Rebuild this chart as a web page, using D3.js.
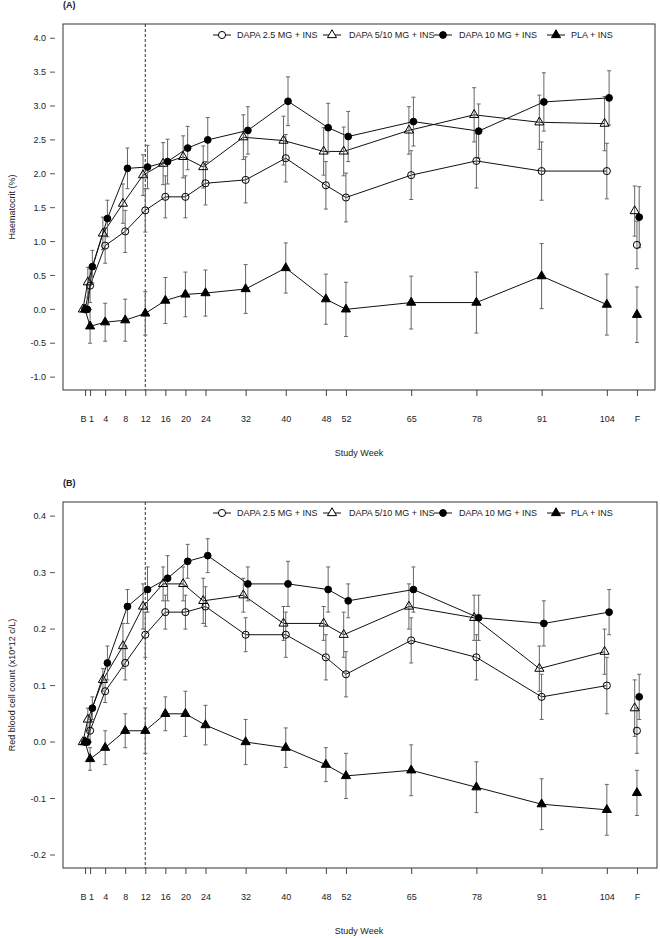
<!DOCTYPE html>
<html>
<head>
<meta charset="utf-8">
<script src="https://cdn.jsdelivr.net/npm/d3@7"></script>
<style>
  body { margin: 0; background: #fff; }
  svg text { font-family: "Liberation Sans", Arial, sans-serif; font-size: 9px; fill: #222; }
  .frame { fill: none; stroke: #333; stroke-width: 1; }
  .err { stroke: #666; stroke-width: 1; fill: none; }
  .line { fill: none; stroke: #111; stroke-width: 1; }
</style>
</head>
<body>
<script>
// study weeks (F = final follow-up, put after week 104)
const weeks = [0, 1, 4, 8, 12, 16, 20, 24, 32, 40, 48, 52, 65, 78, 91, 104, 110];
const weekLabels = ["B", "1", "4", "8", "12", "16", "20", "24", "32", "40", "48", "52", "65", "78", "91", "104", "F"];
const groups = ["DAPA 2.5 MG + INS", "DAPA 5/10 MG + INS", "DAPA 10 MG + INS", "PLA + INS"];

// (A) haematocrit change, %
const hctD25 = [0, 0.35, 0.94, 1.15, 1.46, 1.66, 1.66, 1.86, 1.91, 2.23, 1.83, 1.65, 1.98, 2.19, 2.04, 2.04, 0.95];
const hctD25se = [0, 0.25, 0.26, 0.31, 0.32, 0.31, 0.31, 0.32, 0.34, 0.35, 0.35, 0.36, 0.36, 0.40, 0.43, 0.41, 0.35];
const hctD510 = [0, 0.40, 1.12, 1.56, 1.98, 2.15, 2.25, 2.10, 2.54, 2.49, 2.33, 2.33, 2.64, 2.87, 2.76, 2.74, 1.45];
const hctD510se = [0, 0.22, 0.24, 0.29, 0.30, 0.31, 0.31, 0.31, 0.33, 0.36, 0.35, 0.36, 0.35, 0.40, 0.40, 0.40, 0.37];
const hctD10 = [0, 0.63, 1.34, 2.08, 2.10, 2.18, 2.38, 2.50, 2.64, 3.07, 2.68, 2.55, 2.77, 2.63, 3.06, 3.12, 1.36];
const hctD10se = [0, 0.24, 0.27, 0.30, 0.32, 0.33, 0.32, 0.33, 0.35, 0.36, 0.36, 0.37, 0.36, 0.40, 0.43, 0.40, 0.45];
const hctPla = [0, -0.25, -0.19, -0.16, -0.06, 0.13, 0.22, 0.24, 0.30, 0.61, 0.15, 0.00, 0.10, 0.10, 0.49, 0.07, -0.08];
const hctPlase = [0, 0.25, 0.28, 0.31, 0.32, 0.34, 0.33, 0.34, 0.36, 0.37, 0.37, 0.40, 0.39, 0.45, 0.48, 0.45, 0.41];
const hctTicks = [-1.0, -0.5, 0.0, 0.5, 1.0, 1.5, 2.0, 2.5, 3.0, 3.5, 4.0];

// (B) red blood cell count change
const rbcD25 = [0, 0.02, 0.09, 0.14, 0.19, 0.23, 0.23, 0.24, 0.19, 0.19, 0.15, 0.12, 0.18, 0.15, 0.08, 0.10, 0.02];
const rbcD25se = [0, 0.02, 0.02, 0.03, 0.04, 0.03, 0.03, 0.035, 0.03, 0.04, 0.04, 0.04, 0.04, 0.04, 0.04, 0.05, 0.04];
const rbcD510 = [0, 0.04, 0.11, 0.17, 0.24, 0.28, 0.28, 0.25, 0.26, 0.21, 0.21, 0.19, 0.24, 0.22, 0.13, 0.16, 0.06];
const rbcD510se = [0, 0.02, 0.02, 0.04, 0.04, 0.03, 0.03, 0.04, 0.03, 0.03, 0.03, 0.04, 0.04, 0.04, 0.04, 0.04, 0.05];
const rbcD10 = [0, 0.06, 0.14, 0.24, 0.27, 0.29, 0.32, 0.33, 0.28, 0.28, 0.27, 0.25, 0.27, 0.22, 0.21, 0.23, 0.08];
const rbcD10se = [0, 0.02, 0.03, 0.03, 0.04, 0.04, 0.03, 0.03, 0.03, 0.04, 0.04, 0.03, 0.04, 0.04, 0.04, 0.04, 0.04];
const rbcPla = [0, -0.03, -0.01, 0.02, 0.02, 0.05, 0.05, 0.03, 0.00, -0.01, -0.04, -0.06, -0.05, -0.08, -0.11, -0.12, -0.09];
const rbcPlase = [0, 0.02, 0.03, 0.03, 0.04, 0.03, 0.04, 0.035, 0.04, 0.035, 0.03, 0.04, 0.045, 0.045, 0.045, 0.045, 0.04];
const rbcTicks = [-0.2, -0.1, 0.0, 0.1, 0.2, 0.3, 0.4];

// marker style per group, and small horizontal dodge (weeks)
const markers = [
  { shape: d3.symbolCircle, fill: "none", size: 40, dodge: 0 },
  { shape: d3.symbolTriangle, fill: "none", size: 36, dodge: -0.45 },
  { shape: d3.symbolCircle, fill: "#000", size: 36, dodge: 0.45 },
  { shape: d3.symbolTriangle, fill: "#000", size: 36, dodge: 0 },
];
// legend entry x positions (symbol centre, text start)
const legendX = [[222, 237], [332, 349], [443, 459], [556, 571]];

const svg = d3.select("body").append("svg").attr("width", 660).attr("height", 938);

const x = d3.scaleLinear().domain([-4.4, 113.6]).range([63, 655]);

const drawPanel = (cfg) => {
  const g = svg.append("g");
  const y = d3.scaleLinear().domain(cfg.domain).range([cfg.bottom, cfg.top]);

  // panel tag
  g.append("text").attr("x", 63).attr("y", cfg.top - 16)
    .style("font-weight", "bold").text(cfg.tag);

  // y ticks (detached from the frame, like the original)
  const yt = g.selectAll("g.ytick").data(cfg.ticks).enter().append("g")
    .attr("transform", (d) => `translate(0,${y(d)})`);
  yt.append("line").attr("x1", 50).attr("x2", 55).attr("stroke", "#555");
  yt.append("text").attr("x", 46).attr("dy", "0.35em").attr("text-anchor", "end")
    .text((d) => d.toFixed(1));

  // x axis
  const xAxis = d3.axisBottom(x).tickValues(weeks)
    .tickFormat((d, i) => weekLabels[i]).tickSize(6).tickPadding(20);
  const xa = g.append("g").attr("transform", `translate(0,${cfg.bottom})`).call(xAxis);
  xa.select(".domain").remove();
  xa.selectAll("line").attr("stroke", "#444");
  xa.selectAll("text").style("font-size", "9px").attr("fill", "#222")
    .style("font-family", "Liberation Sans, Arial, sans-serif")
    .attr("dx", (d, i) => (i === 0 ? -2 : i === 1 ? 1 : 0));

  g.append("text").attr("x", 359).attr("y", cfg.bottom + 66).attr("text-anchor", "middle")
    .text("Study Week");
  g.append("text")
    .attr("transform", `translate(15,${(cfg.top + cfg.bottom) / 2}) rotate(-90)`)
    .attr("text-anchor", "middle").text(cfg.ylabel);

  // dashed reference line at week 12
  g.append("line").attr("x1", x(12)).attr("x2", x(12))
    .attr("y1", cfg.top).attr("y2", cfg.bottom)
    .attr("stroke", "#333").attr("stroke-dasharray", "3,2");

  cfg.series.forEach((s, k) => {
    const m = markers[k];
    const pts = s.vals.map((v, i) => ({ wk: weeks[i] + m.dodge, v: v, se: s.se[i] }));
    const lineGen = d3.line().x((d) => x(d.wk)).y((d) => y(d.v));
    // F is not joined to the time course
    g.append("path").attr("class", "line").attr("d", lineGen(pts.slice(0, 16)));

    const eb = g.selectAll(`g.err${k}`).data(pts.filter((d) => d.se > 0)).enter()
      .append("g").attr("class", "err");
    eb.append("line").attr("x1", (d) => x(d.wk)).attr("x2", (d) => x(d.wk))
      .attr("y1", (d) => y(d.v - d.se)).attr("y2", (d) => y(d.v + d.se));
    [-1, 1].forEach((sgn) => {
      eb.append("line").attr("x1", (d) => x(d.wk) - 2).attr("x2", (d) => x(d.wk) + 2)
        .attr("y1", (d) => y(d.v + sgn * d.se)).attr("y2", (d) => y(d.v + sgn * d.se));
    });
  });

  cfg.series.forEach((s, k) => {
    const m = markers[k];
    g.selectAll(`path.mk${k}`).data(s.vals).enter().append("path")
      .attr("d", d3.symbol().type(m.shape).size(m.size))
      .attr("transform", (d, i) => `translate(${x(weeks[i] + m.dodge)},${y(d)})`)
      .attr("fill", m.fill).attr("stroke", "#000").attr("stroke-width", 1);
  });

  // legend
  const lg = g.selectAll("g.leg").data(groups).enter().append("g")
    .attr("transform", (_, i) => `translate(0,${cfg.top + 11})`);
  lg.append("line").attr("x1", (_, i) => legendX[i][0] - 9).attr("x2", (_, i) => legendX[i][0] + 9)
    .attr("stroke", "#111");
  lg.append("path").attr("d", (_, i) => d3.symbol().type(markers[i].shape).size(markers[i].size)())
    .attr("transform", (_, i) => `translate(${legendX[i][0]},0)`)
    .attr("fill", (_, i) => markers[i].fill === "none" ? "#fff" : "#000").attr("stroke", "#000");
  lg.append("text").attr("x", (_, i) => legendX[i][1]).attr("dy", "0.35em").text((d) => d);

  g.append("rect").attr("class", "frame").attr("x", 63).attr("y", cfg.top)
    .attr("width", cfg.right - 63).attr("height", cfg.bottom - cfg.top);
};

drawPanel({
  tag: "(A)", top: 24, bottom: 390, right: 655, domain: [-1.19, 4.21], ticks: hctTicks,
  ylabel: "Haematocrit (%)",
  series: [
    { vals: hctD25, se: hctD25se }, { vals: hctD510, se: hctD510se },
    { vals: hctD10, se: hctD10se }, { vals: hctPla, se: hctPlase },
  ],
});

drawPanel({
  tag: "(B)", top: 502, bottom: 868, right: 657, domain: [-0.223, 0.425], ticks: rbcTicks,
  ylabel: "Red blood cell count (x10*12 c/L)",
  series: [
    { vals: rbcD25, se: rbcD25se }, { vals: rbcD510, se: rbcD510se },
    { vals: rbcD10, se: rbcD10se }, { vals: rbcPla, se: rbcPlase },
  ],
});
</script>
</body>
</html>
